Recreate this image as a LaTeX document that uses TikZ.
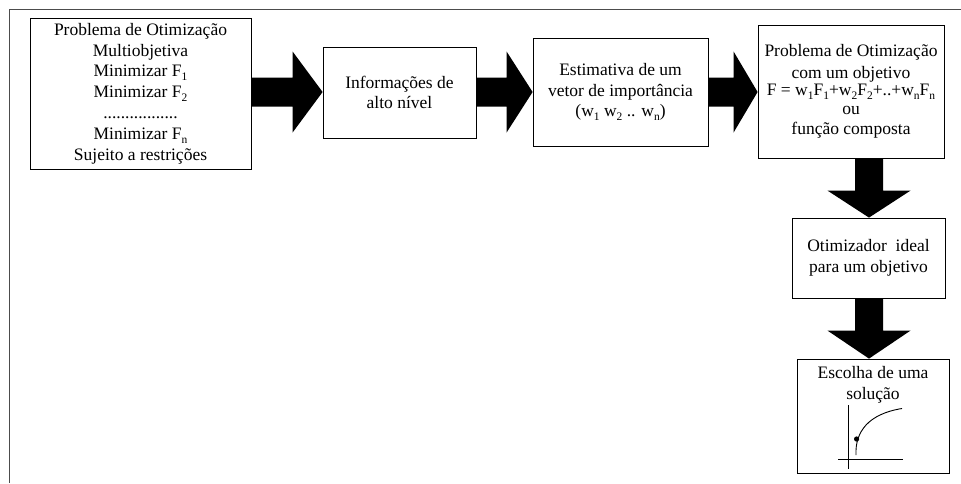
\documentclass[tikz,border=0pt]{standalone}
\usepackage{fontspec}
\setmainfont{Liberation Serif}
\usetikzlibrary{calc}

% lowered subscript as set in the labels
\newcommand\idx[1]{\raisebox{-4pt}{\fontsize{11.5}{11.5}\selectfont #1}}
% horizontal block arrow between two boxes: from, to, head length
\newcommand\hblock[3]{%
  \fill ($(#1.east|-ay)+(0,-14.5)$) -- ($(#2.west|-ay)+(-#3,-14.5)$)
     -- ($(#2.west|-ay)+(-#3,-40.5)$) -- (#2.west|-ay)
     -- ($(#2.west|-ay)+(-#3,40.5)$) -- ($(#2.west|-ay)+(-#3,14.5)$)
     -- ($(#1.east|-ay)+(0,14.5)$) -- cycle;}
% vertical block arrow between two boxes: from, to, head length
\newcommand\vblock[3]{%
  \fill ($(ax|-#1.south)+(-14,0)$) -- ($(ax|-#2.north)+(-14,-#3)$)
     -- ($(ax|-#2.north)+(-41.5,-#3)$) -- (ax|-#2.north)
     -- ($(ax|-#2.north)+(41.5,-#3)$) -- ($(ax|-#2.north)+(14,-#3)$)
     -- ($(ax|-#1.south)+(14,0)$) -- cycle;}

\begin{document}
\begin{tikzpicture}[x=1pt,y=-1pt,
  frame/.style={draw=black!70, line width=1.3pt},
  box/.style={draw, line width=0.8pt, inner sep=0pt, align=center,
    font=\fontsize{17.5}{20.8}\selectfont},
  txt/.style={inner sep=0pt, align=center, font=\fontsize{17.5}{20.8}\selectfont}]
\useasboundingbox (0,0) rectangle (961,483);

% outer frame
\draw[frame] (961,9.5) -- (9.5,9.5) -- (9.5,483);

% boxes
\node[box, minimum width=221, minimum height=151] (b1) at (140.5,93.5)
  {Problema de Otimização\\ Multiobjetiva\\ Minimizar F\idx{1}\\
   Minimizar F\idx{2}\\ .................\\ Minimizar F\idx{n}\\
   Sujeito a restrições};
\node[box, minimum width=153, minimum height=91] (b2) at (399.5,92.5)
  {Informações de\\ alto nível};
\node[box, minimum width=175, minimum height=108] (b3) at (620.5,92)
  {Estimativa de um\\ vetor de importância\\
   (w\idx{1} w\idx{2} .. w\idx{n})};
\node[box, minimum width=186, minimum height=133] (b4) at (851,91.5)
  {Problema de Otimização\\[1pt] com um objetivo\\[-4pt]
   F = w\idx{1}F\idx{1}+w\idx{2}F\idx{2}+..+w\idx{n}F\idx{n}\\[-2pt]
   ou\\ função composta};
\node[box, minimum width=153, minimum height=80] (b5) at (868.5,258)
  {Otimizador~ ideal\\ para um objetivo};
\node[box, minimum width=152, minimum height=114] (b6) at (873,416) {};
\node[txt, anchor=north] (t6) at ($(b6.north)+(0,8)$) {Escolha de uma\\ solução};

% small trade-off sketch inside the last box
\draw[line width=0.8pt] (848,405) -- (848,469);
\draw[line width=0.8pt] (838,459.5) -- (903,459.5);
\draw[line width=0.9pt] (856,455) .. controls (855,432) and (868,414) .. (902,408.5);
\fill (856.6,439) circle (2.6);

% block arrows
\coordinate (ay) at (0,92);
\coordinate (ax) at (869,0);
\hblock{b1}{b2}{30}
\hblock{b2}{b3}{26}
\hblock{b3}{b4}{24}
\vblock{b4}{b5}{27}
\vblock{b5}{b6}{28}
\end{tikzpicture}
\end{document}
